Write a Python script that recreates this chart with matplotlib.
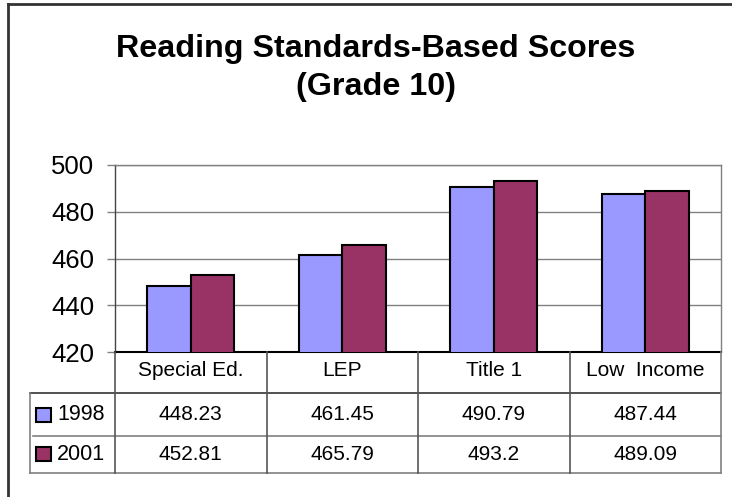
import matplotlib
matplotlib.use("Agg")
import matplotlib.pyplot as plt
from matplotlib.patches import Rectangle
from matplotlib.lines import Line2D

categories = ["Special Ed.", "LEP", "Title 1", "Low  Income"]
series_names = ["1998", "2001"]
scores_1998 = [448.23, 461.45, 490.79, 487.44]
scores_2001 = [452.81, 465.79, 493.2, 489.09]
value_labels_1998 = ["448.23", "461.45", "490.79", "487.44"]
value_labels_2001 = ["452.81", "465.79", "493.2", "489.09"]
yticks = [420, 440, 460, 480, 500]
title_lines = ["Reading Standards-Based Scores", "(Grade 10)"]

colors = ["#9999FF", "#993366"]

W, H = 732, 497
plt.rcParams['font.family'] = ['Liberation Sans', 'DejaVu Sans']
fig = plt.figure(figsize=(W / 100, H / 100), dpi=100)


def fx(x):
    return x / W


def fy(y):
    return 1 - y / H


# outer frame (top and left only visible)
fig.add_artist(Line2D([fx(8), fx(8)], [fy(4), 0], transform=fig.transFigure, color="#333333", lw=2))
fig.add_artist(Line2D([fx(8), 1], [fy(4), fy(4)], transform=fig.transFigure, color="#333333", lw=2))

# title
for line, yb in zip(title_lines, [57, 95]):
    fig.text(fx(376), fy(yb), line, ha="center", va="baseline", fontsize=23.2, fontweight="bold")

left, right, top, bottom = 115, 721, 165, 352
ax = fig.add_axes([fx(left), fy(bottom), fx(right - left), (bottom - top) / H])
x = list(range(len(categories)))
bw = 0.287
ax.bar([i - bw / 2 for i in x], scores_1998, width=bw, color=colors[0], edgecolor="black", linewidth=1.5, zorder=3)
ax.bar([i + bw / 2 for i in x], scores_2001, width=bw, color=colors[1], edgecolor="black", linewidth=1.5, zorder=3)
ax.set_xlim(-0.5, len(categories) - 0.5)
ax.set_ylim(420, 500)
ax.set_yticks(yticks)
ax.set_yticklabels([str(t) for t in yticks], fontsize=18.5)
ax.tick_params(axis="y", direction="out", length=6, width=1, color="#808080", pad=9)
ax.set_xticks([])
ax.yaxis.grid(True, color="#808080", lw=1, zorder=0)
ax.set_axisbelow(True)
for s in ["top", "right"]:
    ax.spines[s].set_color("#808080")
    ax.spines[s].set_linewidth(1)
ax.spines["left"].set_color("#444444")
ax.spines["bottom"].set_color("black")
ax.spines["bottom"].set_linewidth(1.5)
ax.spines["left"].set_linewidth(1)

# data table
tx0, tx1 = 30, 721
col_w = (right - left) / len(categories)
col_x = [left + i * col_w for i in range(len(categories) + 1)]


def hline(y, x0, x1, c="#808080", lw=1.2):
    fig.add_artist(Line2D([fx(x0), fx(x1)], [fy(y), fy(y)], transform=fig.transFigure, color=c, lw=lw))


def vline(x, y0, y1, c="#555555", lw=1.2):
    fig.add_artist(Line2D([fx(x), fx(x)], [fy(y0), fy(y1)], transform=fig.transFigure, color=c, lw=lw))


hline(393, tx0, tx1, c="#333333")
hline(436, tx0 + 3, tx1, c="#808080")
hline(473, tx0, tx1, c="#808080")
vline(tx0, 393, 473, c="#808080")
for i, cx in enumerate(col_x):
    vline(cx, 352, 473, c="#555555" if i < len(col_x) - 1 else "#808080")

for i, cat in enumerate(categories):
    cxm = (col_x[i] + col_x[i + 1]) / 2
    fig.text(fx(cxm), fy(371), cat, ha="center", va="center", fontsize=15)
    fig.text(fx(cxm), fy(414.5), value_labels_1998[i], ha="center", va="center", fontsize=15)
    fig.text(fx(cxm), fy(454), value_labels_2001[i], ha="center", va="center", fontsize=15)

for j, (name, yy) in enumerate(zip(series_names, [414.5, 454])):
    fig.add_artist(Rectangle((fx(36), fy(yy + 7)), fx(15), 14 / H, transform=fig.transFigure,
                             facecolor=colors[j], edgecolor="black", lw=1.5))
    fig.text(fx(57), fy(yy), name, ha="left", va="center", fontsize=15.5)

fig.savefig("out.png", dpi=100)
